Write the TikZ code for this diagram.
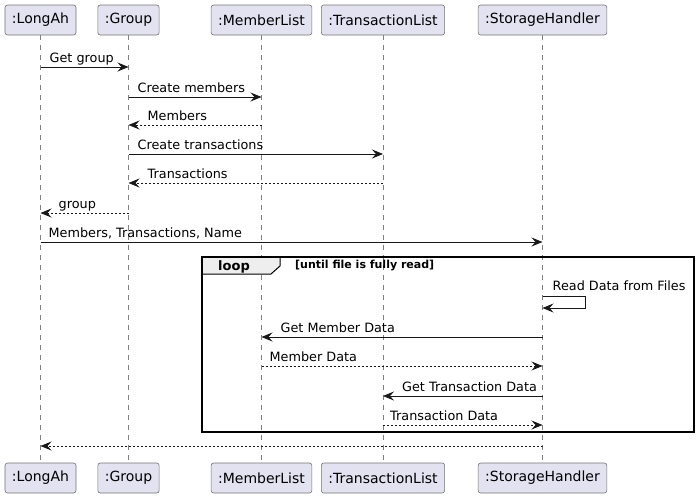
\documentclass[tikz,border=0pt]{standalone}
\usepackage{fontspec}
\setmainfont{DejaVu Sans}
\usetikzlibrary{arrows.meta,calc}
\definecolor{partfill}{HTML}{E2E2F0}
\definecolor{partline}{HTML}{181818}
\definecolor{tabfill}{HTML}{EEEEEE}
\tikzset{
	participant/.style={draw=partline!60, line width=0.6pt, fill=partfill, rounded corners=2.5pt,
			minimum height=30pt, inner xsep=7pt, font=\fontsize{14}{16}\selectfont},
	lifeline/.style={draw=partline!55, line width=0.6pt, dash pattern=on 5pt off 5pt},
	call/.style={draw=partline, line width=0.8pt, -{Stealth[length=11pt,width=9pt,inset=4pt]}},
	reply/.style={call, dash pattern=on 2pt off 2pt},
	msglabel/.style={anchor=base west, inner sep=0pt, font=\fontsize{12.8}{15}\selectfont}
}

\begin{document}
\begin{tikzpicture}[x=1pt, y=-1pt]
	\useasboundingbox (0,0) rectangle (699,498);
	% participants, top and bottom
	\node[participant] (longah) at (40.5,20) {:LongAh};
	\node[participant] (group) at (128.5,20) {:Group};
	\node[participant] (memberlist) at (261.5,20) {:MemberList};
	\node[participant] (transactionlist) at (383,20) {:TransactionList};
	\node[participant] (storage) at (542.5,20) {:StorageHandler};
	\node[participant] (longahB) at (40.5,478) {:LongAh};
	\node[participant] (groupB) at (128.5,478) {:Group};
	\node[participant] (memberlistB) at (261.5,478) {:MemberList};
	\node[participant] (transactionlistB) at (383,478) {:TransactionList};
	\node[participant] (storageB) at (542.5,478) {:StorageHandler};
	\foreach \p in {longah,group,memberlist,transactionlist,storage}
		\draw[lifeline] (\p.south) -- (\p B.north);

	% message rows
	\coordinate (m1) at (0,67);
	\coordinate (m2) at (0,97);
	\coordinate (m3) at (0,125);
	\coordinate (m4) at (0,154);
	\coordinate (m5) at (0,183);
	\coordinate (m6) at (0,213);
	\coordinate (m7) at (0,242);
	\coordinate (m8) at (0,296);
	\coordinate (m9) at (0,308);
	\coordinate (m10) at (0,337);
	\coordinate (m11) at (0,366);
	\coordinate (m12) at (0,396);
	\coordinate (m13) at (0,425);
	\coordinate (m14) at (0,446);

	% loop frame
	\filldraw[fill=tabfill, draw=black, line width=1pt] (202,257) -- (280,257) -- (280,266) -- (271,274) -- (202,274) -- cycle;
	\draw[line width=1.5pt] (202,257) rectangle (694,432);
	\node[anchor=base west, inner sep=0pt, font=\bfseries\fontsize{13}{15}\selectfont] (looptag) at (218,270) {loop};
	\node[anchor=base west, inner sep=0pt, font=\bfseries\fontsize{11}{13}\selectfont] (loopguard) at (295,268) {[until file is fully read]};

	\draw[call] (longah |- m1) -- (group |- m1);
	\path (longah |- m1) ++(9,-5) node[msglabel] {Get group};
	\draw[call] (group |- m2) -- (memberlist |- m2);
	\path (group |- m2) ++(9,-5) node[msglabel] {Create members};
	\draw[reply] (memberlist |- m3) -- (group |- m3);
	\path (group |- m3) ++(19,-5) node[msglabel] {Members};
	\draw[call] (group |- m4) -- (transactionlist |- m4);
	\path (group |- m4) ++(9,-5) node[msglabel] {Create transactions};
	\draw[reply] (transactionlist |- m5) -- (group |- m5);
	\path (group |- m5) ++(19,-5) node[msglabel] {Transactions};
	\draw[reply] (group |- m6) -- (longah |- m6);
	\path (longah |- m6) ++(18,-5) node[msglabel] {group};
	\draw[call] (longah |- m7) -- (storage |- m7);
	\path (longah |- m7) ++(8,-5) node[msglabel] {Members, Transactions, Name};

	\draw[call] (storage |- m8) -- ++(43,0) |- (storage |- m9);
	\path (storage |- m8) ++(10,-6) node[msglabel] {Read Data from Files};
	\draw[call] (storage |- m10) -- (memberlist |- m10);
	\path (memberlist |- m10) ++(19,-5) node[msglabel] {Get Member Data};
	\draw[reply] (memberlist |- m11) -- (storage |- m11);
	\path (memberlist |- m11) ++(8,-5) node[msglabel] {Member Data};
	\draw[call] (storage |- m12) -- (transactionlist |- m12);
	\path (transactionlist |- m12) ++(19,-5) node[msglabel] {Get Transaction Data};
	\draw[reply] (transactionlist |- m13) -- (storage |- m13);
	\path (transactionlist |- m13) ++(7,-5) node[msglabel] {Transaction Data};

	\draw[reply] (storage |- m14) -- (longah |- m14);
\end{tikzpicture}
\end{document}
